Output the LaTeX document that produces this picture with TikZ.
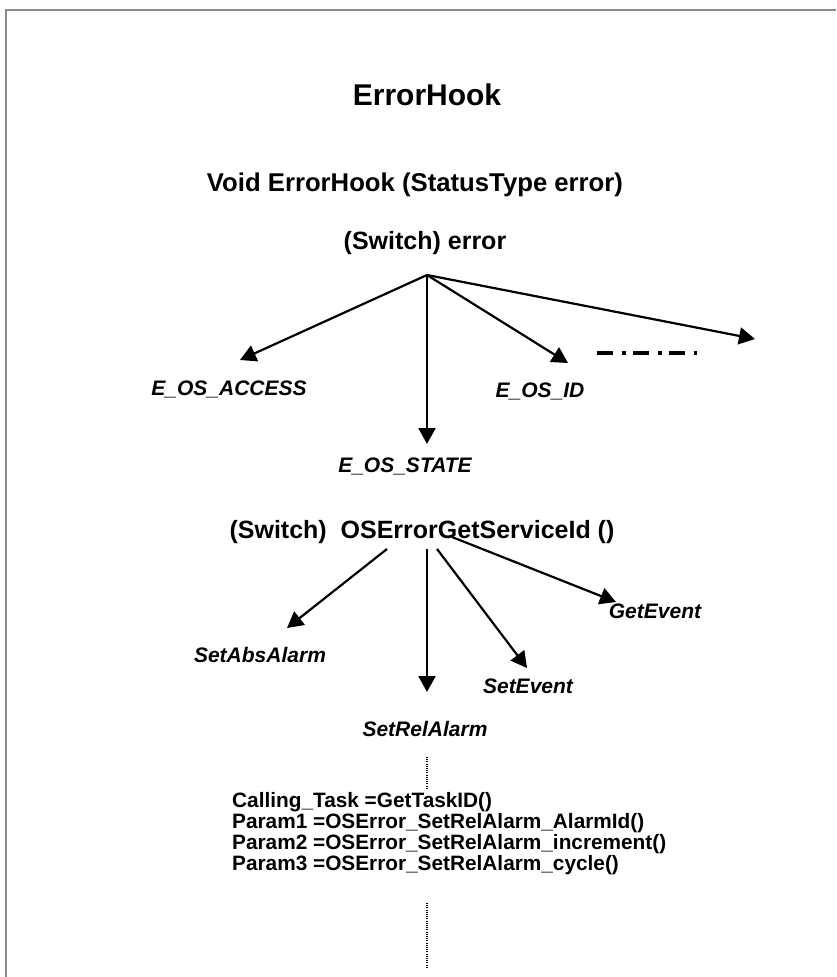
\documentclass[tikz,border=0pt]{standalone}
\usepackage{fontspec}
\setmainfont{Liberation Sans}
\usetikzlibrary{arrows.meta}
\definecolor{framegray}{HTML}{8C8C8C}

\begin{document}
\begin{tikzpicture}[x=1pt,y=-1pt,
 head/.style={font=\fontsize{25}{30}\selectfont\bfseries,inner sep=0pt},
 case/.style={font=\fontsize{21}{25}\selectfont\bfseries\itshape,inner sep=0pt},
 arr/.style={-{Triangle[length=16pt,width=17pt]},line width=2.2pt},
 more/.style={line width=3.6pt,dash pattern=on 16pt off 9pt on 4pt off 7pt},
 vdots/.style={line width=1.1pt,dash pattern=on 1pt off 1.2pt},
 code/.style={font=\fontsize{20.8}{21}\selectfont\bfseries,align=left,anchor=north west,inner sep=0pt}]

\useasboundingbox (0,0) rectangle (836,977);

% Page frame, cut at the right and bottom edges
\draw[framegray,line width=2.5pt] (6,977) -- (6,10) -- (836,10);

% Titles
\node[font=\fontsize{30}{36}\selectfont\bfseries] (title) at (427,95) {ErrorHook};
\node[head,font=\fontsize{25.7}{30}\selectfont\bfseries] (proto) at (415,185) {Void ErrorHook (StatusType error)};
\node[head] (sw1) at (425,243) {(Switch) error};

% First switch: error codes
\coordinate (fork1) at (427,275);
\node[case] (acc) at (229,389) {E\_OS\_ACCESS};
\node[case] (state) at (405,466) {E\_OS\_STATE};
\node[case] (id) at (540,391) {E\_OS\_ID};
\coordinate (accTip) at (240,360);
\coordinate (stateTip) at (427,444);
\coordinate (idTip) at (568,363);
\coordinate (moreTip) at (755,339);
\draw[arr] (fork1) -- (accTip);
\draw[arr] (fork1) -- (stateTip);
\draw[arr] (fork1) -- (idTip);
\draw[arr] (fork1) -- (moreTip);
\coordinate (dashA) at (597,353);
\coordinate (dashB) at (697,353);
\draw[more] (dashA) -- (dashB);

% Second switch: service ids
\node[head] (sw2) at (422,532) {(Switch)\ \ OSErrorGetServiceId ()};
\node[case] (abs) at (260,655) {SetAbsAlarm};
\node[case] (rel) at (425,729) {SetRelAlarm};
\node[case] (set) at (528,686) {SetEvent};
\node[case] (get) at (655,611) {GetEvent};
\draw[arr] (387,549) -- (287,628);
\draw[arr] (427,549) -- (427,692);
\draw[arr] (437,549) -- (527,668);
\draw[arr] (452,537) -- (616,602);

% Parameters read for SetRelAlarm
\coordinate (dot1a) at (427,757);
\coordinate (dot1b) at (427,788);
\draw[vdots] (dot1a) -- (dot1b);
\node[code] (params) at (232,792) {Calling\_Task =GetTaskID()\\
Param1 =OSError\_SetRelAlarm\_AlarmId()\\
Param2 =OSError\_SetRelAlarm\_increment()\\
Param3 =OSError\_SetRelAlarm\_cycle()};
\coordinate (dot2a) at (427,903);
\coordinate (dot2b) at (427,968);
\draw[vdots] (dot2a) -- (dot2b);
\end{tikzpicture}
\end{document}
